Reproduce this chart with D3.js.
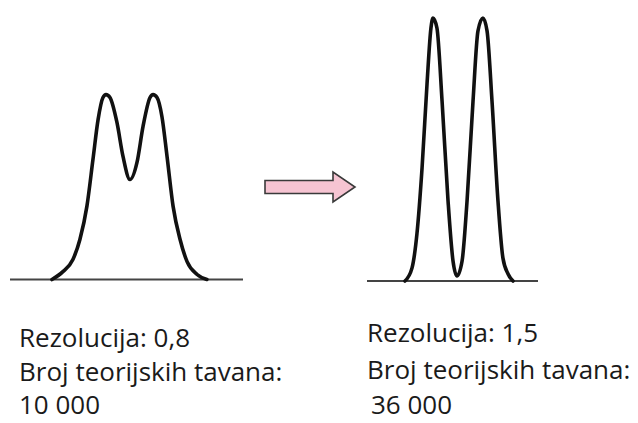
<!DOCTYPE html>
<html><head><meta charset="utf-8">
<script src="https://cdn.jsdelivr.net/npm/d3@7/dist/d3.min.js"></script>
<style>body{margin:0;background:#fff}svg{display:block}</style>
</head><body>
<script>
// Left chromatogram (resolution 0.8): retention position vs signal
const leftX = [18, 22.7, 27, 30, 33, 35.6, 37.8, 39.9, 41.2, 42.9, 45.9, 48.5, 51.5, 54.5, 57.1, 60.1, 61.4, 63.1, 65.2, 67.4, 70, 73, 76, 80.3, 84.5];
const leftY = [0, 3, 7.6, 15.2, 27.8, 45.6, 60.8, 69.2, 70.3, 69.2, 59.7, 46.8, 38, 44.5, 58.2, 69.2, 70.3, 69.2, 62, 46.8, 27.8, 15.2, 6.8, 1.9, 0];
// Right chromatogram (resolution 1.5)
const rightX = [22.2, 26.3, 29.2, 32.2, 35.1, 37.4, 38.6, 40.9, 43.9, 47.4, 50.3, 52.6, 55.6, 58.5, 62, 64.9, 67.8, 70.2, 73.1, 76.6, 79.5, 82.5, 85.4];
const rightY = [0, 4.9, 17.9, 43, 74.9, 96.2, 100, 96.2, 68.4, 30.4, 7.6, 1.9, 7.6, 30.4, 68.4, 95.1, 100, 95.1, 68.4, 30.4, 8.7, 2.7, 0];
const leftLabels = ["Rezolucija: 0,8", "Broj teorijskih tavana:", "10 000"];
const rightLabels = ["Rezolucija: 1,5", "Broj teorijskih tavana:", "36 000"];

const W = 638, H = 423;
const svg = d3.select("body").append("svg").attr("width", W).attr("height", H);

const yL = d3.scaleLinear().domain([0, 100]).range([279.5, 16.5]);
const yR = d3.scaleLinear().domain([0, 100]).range([281, 18]);
const xL = d3.scaleLinear().domain([0, 100]).range([10, 243]);
const xR = d3.scaleLinear().domain([0, 100]).range([367, 538]);

function panel(xs, ys, xv, yv, baseY) {
  svg.append("line")
    .attr("x1", xs.range()[0]).attr("x2", xs.range()[1])
    .attr("y1", baseY).attr("y2", baseY)
    .attr("stroke", "#444").attr("stroke-width", 2);
  const pts = xv.map((v, i) => [v, yv[i]]);
  const line = d3.line().x(d => xs(d[0])).y(d => ys(d[1])).curve(d3.curveMonotoneX);
  svg.append("path").attr("d", line(pts))
    .attr("fill", "none").attr("stroke", "#111").attr("stroke-width", 3.6)
    .attr("stroke-linejoin", "round").attr("stroke-linecap", "round");
}
panel(xL, yL, leftX, leftY, 279.5);
panel(xR, yR, rightX, rightY, 281);

// Arrow
const ax0 = 265, ax1 = 355, ay = 187, shaftH = 13, headH = 30, headX = 333;
const arrowPts = [
  [ax0, ay - shaftH / 2], [headX, ay - shaftH / 2], [headX, ay - headH / 2],
  [ax1, ay], [headX, ay + headH / 2], [headX, ay + shaftH / 2], [ax0, ay + shaftH / 2]
];
svg.append("path").attr("d", d3.line()(arrowPts) + "Z")
  .attr("fill", "#f6c4d2").attr("stroke", "#3a3a3a").attr("stroke-width", 1.6)
  .attr("stroke-linejoin", "miter");

function labels(arr, xs, ys) {
  svg.selectAll(null).data(arr).enter().append("text")
    .attr("x", (d, i) => xs[i]).attr("y", (d, i) => ys[i])
    .attr("font-family", "'Open Sans', 'Noto Sans', sans-serif")
    .attr("font-size", 26).attr("fill", "#1a1a1a")
    .text(d => d);
}
labels(leftLabels, [19, 19, 19], [347, 381, 414]);
labels(rightLabels, [367, 367, 371], [342, 379, 414]);
</script>
</body></html>
